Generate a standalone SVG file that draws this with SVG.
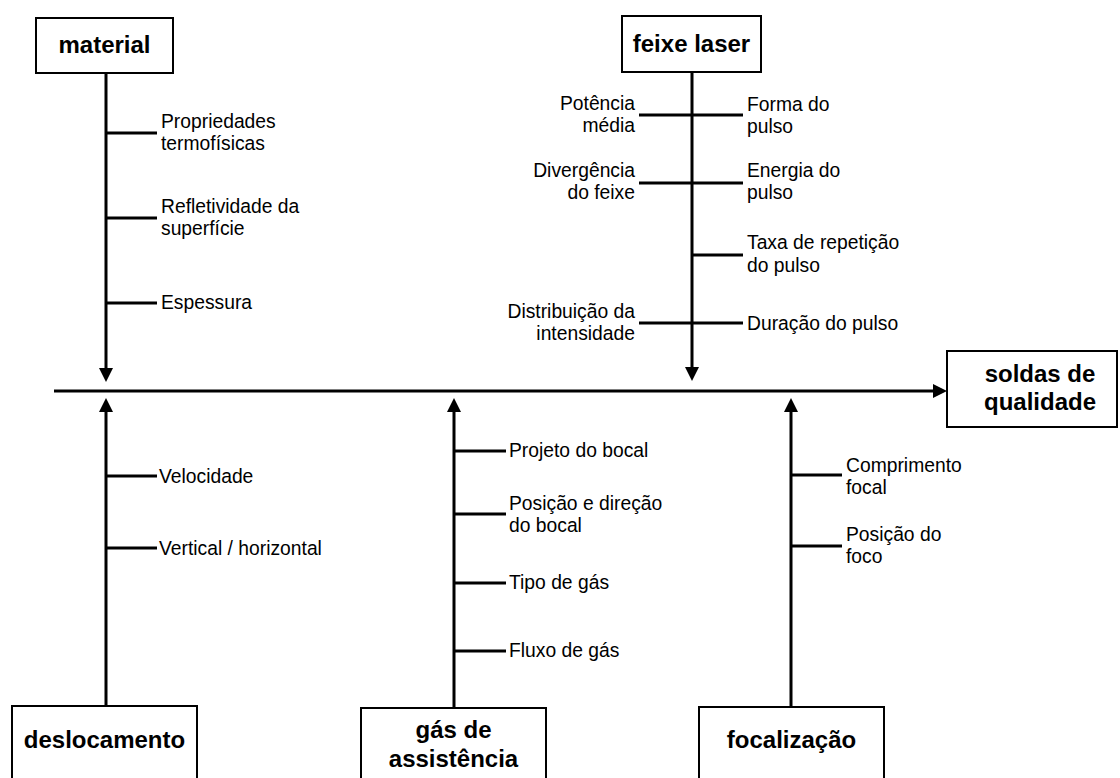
<svg xmlns="http://www.w3.org/2000/svg" width="1120" height="778" viewBox="0 0 1120 778">
<style>
.box{fill:#fff;stroke:#000;stroke-width:2}
.t{font-family:"Liberation Sans",Arial,sans-serif;font-weight:bold;font-size:24px;fill:#000;text-anchor:middle}
.l{font-family:"Liberation Sans",Arial,sans-serif;font-size:19.3px;fill:#000}
.r{text-anchor:end}
.ln{stroke:#000;stroke-width:3;fill:none}
</style>
<defs>
<marker id="ah" markerUnits="userSpaceOnUse" markerWidth="14" markerHeight="14" refX="4" refY="7" orient="auto">
<path d="M0,0 L14,7 L0,14 z" fill="#000"/>
</marker>
</defs>
<g id="connectors">
<path class="ln" d="M54,391 H937" marker-end="url(#ah)"/>
<path class="ln" d="M106,74 V372" marker-end="url(#ah)"/>
<path class="ln" d="M692,72 V371" marker-end="url(#ah)"/>
<path class="ln" d="M106,706 V408" marker-end="url(#ah)"/>
<path class="ln" d="M454,708 V408" marker-end="url(#ah)"/>
<path class="ln" d="M791,707 V408" marker-end="url(#ah)"/>
<path class="ln" d="M106,133 H157 M106,218 H157 M106,303 H157"/>
<path class="ln" d="M639,115 H743 M639,183 H743 M692,255 H743 M639,323 H743"/>
<path class="ln" d="M106,476 H157 M106,548 H157"/>
<path class="ln" d="M454,451 H506 M454,514 H506 M454,583 H506 M454,651 H506"/>
<path class="ln" d="M791,475 H842 M791,546 H842"/>
</g>
<g id="material">
<rect class="box" x="36" y="18" width="137" height="55"/>
<text class="t" x="104.5" y="53">material</text>
</g>
<g id="material-causes">
<text class="l" x="161" y="128">Propriedades</text>
<text class="l" x="161" y="150">termofísicas</text>
<text class="l" x="161" y="213">Refletividade da</text>
<text class="l" x="161" y="235">superfície</text>
<text class="l" x="161" y="309">Espessura</text>
</g>
<g id="feixe-laser">
<rect class="box" x="622" y="16" width="139" height="56"/>
<text class="t" x="691.5" y="52">feixe laser</text>
</g>
<g id="feixe-causes">
<text class="l r" x="635" y="110">Potência</text>
<text class="l r" x="635" y="132">média</text>
<text class="l r" x="635" y="177">Divergência</text>
<text class="l r" x="635" y="199">do feixe</text>
<text class="l r" x="635" y="318">Distribuição da</text>
<text class="l r" x="635" y="340">intensidade</text>
<text class="l" x="747" y="111">Forma do</text>
<text class="l" x="747" y="133">pulso</text>
<text class="l" x="747" y="177">Energia do</text>
<text class="l" x="747" y="199">pulso</text>
<text class="l" x="747" y="249">Taxa de repetição</text>
<text class="l" x="747" y="272">do pulso</text>
<text class="l" x="747" y="330">Duração do pulso</text>
</g>
<g id="soldas">
<rect class="box" x="947" y="351" width="170" height="76"/>
<text class="t" x="1040" y="382">soldas de</text>
<text class="t" x="1040" y="410">qualidade</text>
</g>
<g id="deslocamento">
<rect class="box" x="12" y="706" width="185" height="80"/>
<text class="t" x="104.5" y="748">deslocamento</text>
</g>
<g id="deslocamento-causes">
<text class="l" x="159" y="483">Velocidade</text>
<text class="l" x="159" y="555">Vertical / horizontal</text>
</g>
<g id="gas">
<rect class="box" x="361" y="708" width="185" height="80"/>
<text class="t" x="453.5" y="738">gás de</text>
<text class="t" x="453.5" y="767">assistência</text>
</g>
<g id="gas-causes">
<text class="l" x="509" y="457">Projeto do bocal</text>
<text class="l" x="509" y="510">Posição e direção</text>
<text class="l" x="509" y="532">do bocal</text>
<text class="l" x="509" y="589">Tipo de gás</text>
<text class="l" x="509" y="657">Fluxo de gás</text>
</g>
<g id="focalizacao">
<rect class="box" x="699" y="707" width="185" height="80"/>
<text class="t" x="791.5" y="748">focalização</text>
</g>
<g id="focal-causes">
<text class="l" x="846" y="472">Comprimento</text>
<text class="l" x="846" y="494">focal</text>
<text class="l" x="846" y="541">Posição do</text>
<text class="l" x="846" y="563">foco</text>
</g>
</svg>
